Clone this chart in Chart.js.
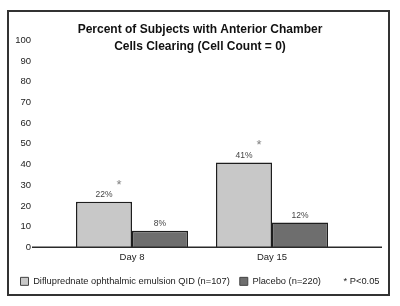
<!DOCTYPE html>
<html>
<head>
<meta charset="utf-8">
<script src="https://cdn.jsdelivr.net/npm/chart.js@4"></script>
<style>
  html, body { margin: 0; padding: 0; background: #fff; }
  #wrap { position: relative; width: 400px; height: 306px; }
  #frame { position: absolute; left: 7px; top: 10px; width: 379px; height: 282px; border: 2px solid #333; }
  canvas { position: absolute; left: 0; top: 0; }
</style>
</head>
<body>
<div id="wrap">
  <div id="frame"></div>
  <canvas id="chart" width="400" height="306"></canvas>
</div>
<script>
const days = ['Day 8', 'Day 15'];
const drugValues = [22, 41];
const placeboValues = [8, 12];
const significant = [true, true];
const yTicks = [0, 10, 20, 30, 40, 50, 60, 70, 80, 90, 100];
const titleLines = ['Percent of Subjects with Anterior Chamber', 'Cells Clearing (Cell Count = 0)'];
const seriesNames = ['Difluprednate ophthalmic emulsion QID (n=107)', 'Placebo (n=220)'];
const noteLabel = '* P<0.05';

const FONT = '"Liberation Sans", Arial, Helvetica, sans-serif';

// baseline, value labels and significance stars
const extras = {
  id: 'extras',
  afterDatasetsDraw(chart) {
    const ctx = chart.ctx;
    const y = chart.scales.y;
    const area = chart.chartArea;
    ctx.save();
    ctx.strokeStyle = '#2a2a2a';
    ctx.lineWidth = 1.5;
    ctx.beginPath();
    ctx.moveTo(area.left - 30, y.getPixelForValue(0));
    ctx.lineTo(area.right + 40, y.getPixelForValue(0));
    ctx.stroke();

    ctx.font = '8.5px ' + FONT;
    ctx.fillStyle = '#444';
    ctx.textAlign = 'center';
    ctx.textBaseline = 'bottom';
    chart.data.datasets.forEach((ds, i) => {
      chart.getDatasetMeta(i).data.forEach((bar, j) => {
        ctx.fillText(ds.data[j] + '%', bar.x, bar.y - 3);
      });
    });

    ctx.font = '13px ' + FONT;
    ctx.fillStyle = '#808080';
    ctx.textBaseline = 'middle';
    chart.getDatasetMeta(0).data.forEach((bar, j) => {
      if (!significant[j]) return;
      ctx.fillText('*', bar.x + 15, y.getPixelForValue(drugValues[j] + 9.5) + 3);
    });
    ctx.restore();
  }
};

new Chart(document.getElementById('chart'), {
  type: 'bar',
  data: {
    labels: days,
    datasets: [
      {
        label: seriesNames[0],
        data: drugValues,
        backgroundColor: '#c8c8c8',
        borderColor: '#1e1e1e',
        borderWidth: 1.5,
        borderSkipped: 'bottom'
      },
      {
        label: seriesNames[1],
        data: placeboValues,
        backgroundColor: '#6e6e6e',
        borderColor: '#1e1e1e',
        borderWidth: 1.5,
        borderSkipped: 'bottom'
      }
    ]
  },
  options: {
    responsive: false,
    animation: false,
    layout: { padding: { left: 0, right: 0, top: 0, bottom: 10 } },
    categoryPercentage: 0.8,
    barPercentage: 1.0,
    scales: {
      x: {
        grid: { display: false, drawTicks: false },
        border: { display: false },
        ticks: { color: '#222', font: { family: FONT, size: 9.5 }, padding: 4 }
      },
      y: {
        min: 0,
        max: 100,
        afterFit(scale) { scale.width = 62; },
        afterBuildTicks(scale) { scale.ticks = yTicks.map(v => ({ value: v })); },
        grid: { display: false, drawTicks: false },
        border: { display: false },
        ticks: { color: '#222', font: { family: FONT, size: 9.5 }, padding: 31 }
      },
      // empty right axis, only reserves the margin right of the bars
      pad: {
        position: 'right',
        min: 0,
        max: 100,
        afterFit(scale) { scale.width = 58; },
        grid: { display: false },
        border: { display: false },
        ticks: { display: false }
      }
    },
    plugins: {
      title: {
        display: true,
        text: titleLines,
        color: '#111',
        font: { family: FONT, size: 12, weight: 'bold', lineHeight: 1.35 },
        padding: { top: 22, bottom: -14 }
      },
      legend: {
        position: 'bottom',
        labels: {
          color: '#222',
          font: { family: FONT, size: 9.3 },
          boxWidth: 8,
          boxHeight: 8,
          padding: 10,
          generateLabels(chart) {
            const items = Chart.defaults.plugins.legend.labels.generateLabels(chart);
            items.forEach(it => { it.lineWidth = 1; it.strokeStyle = '#444'; });
            items.push({ text: noteLabel, fillStyle: 'rgba(0,0,0,0)', strokeStyle: 'rgba(0,0,0,0)', lineWidth: 0, hidden: false, datasetIndex: -1 });
            return items;
          }
        }
      },
      tooltip: { enabled: false }
    }
  },
  plugins: [extras]
});
</script>
</body>
</html>
